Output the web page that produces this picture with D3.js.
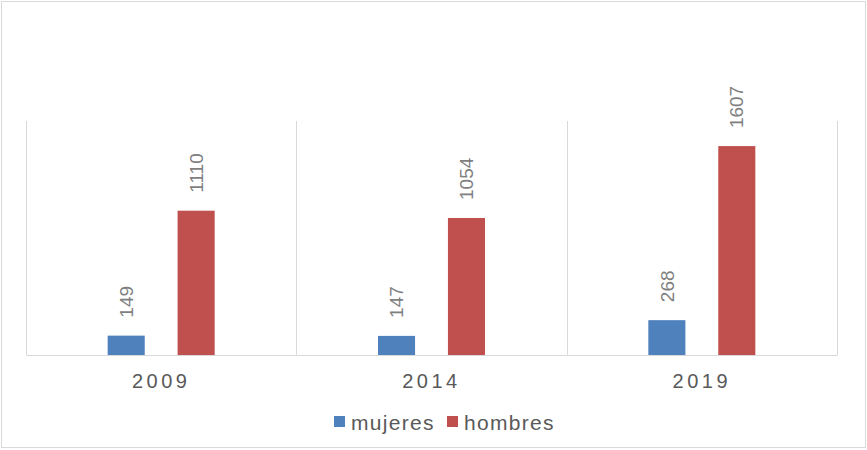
<!DOCTYPE html>
<html>
<head>
<meta charset="utf-8">
<script src="https://cdn.jsdelivr.net/npm/d3@7"></script>
<style>
  body { margin: 0; background: #fff; }
  svg { display: block; font-family: "Liberation Sans", Arial, sans-serif; }
</style>
</head>
<body>
<svg id="chart"></svg>
<script>
const years = ['2009', '2014', '2019'];
const seriesNames = ['mujeres', 'hombres'];
const mujeres = [149, 147, 268];
const hombres = [1110, 1054, 1607];
const colors = ['#4f81bd', '#c0504d'];

const width = 867;
const height = 450;
const margin = { top: 121, right: 30, bottom: 95, left: 26 };

const svg = d3.select('#chart').attr('width', width).attr('height', height);

// outer frame
svg.append('rect')
  .attr('x', 1.5).attr('y', 1.5)
  .attr('width', width - 3).attr('height', height - 4)
  .attr('fill', '#fff')
  .attr('stroke', '#d9d9d9')
  .attr('stroke-width', 1);

const chartWidth = width - margin.left - margin.right;
const chartHeight = height - margin.top - margin.bottom;

const g = svg.append('g')
  .attr('transform', `translate(${margin.left},${margin.top})`);

const x0 = d3.scaleBand().domain(years).range([0, chartWidth]).padding(0);
const x1 = d3.scaleBand().domain(seriesNames)
  .range([x0.bandwidth() / 2 - 53.5, x0.bandwidth() / 2 + 53.5])
  .paddingInner(0.47);
const y = d3.scaleLinear().domain([0, 1800]).range([chartHeight, 0]);

// category separators
const seps = years.map(d => x0(d)).concat([chartWidth]);
g.selectAll('.sep')
  .data(seps)
  .join('line')
  .attr('x1', d => Math.round(d) + 0.5)
  .attr('x2', d => Math.round(d) + 0.5)
  .attr('y1', 0)
  .attr('y2', chartHeight)
  .attr('stroke', '#d9d9d9');

const rows = years.map((yr, i) => ({ year: yr, values: [mujeres[i], hombres[i]] }));

const groups = g.selectAll('.grp')
  .data(rows)
  .join('g')
  .attr('transform', d => `translate(${x0(d.year)},0)`);

groups.selectAll('rect')
  .data(d => d.values.map((v, j) => ({ name: seriesNames[j], value: v, j })))
  .join('rect')
  .attr('x', d => x1(d.name))
  .attr('y', d => y(d.value))
  .attr('width', x1.bandwidth())
  .attr('height', d => chartHeight - y(d.value))
  .attr('fill', d => colors[d.j]);

groups.selectAll('text')
  .data(d => d.values.map((v, j) => ({ name: seriesNames[j], value: v })))
  .join('text')
  .attr('transform', d => `translate(${x1(d.name) + x1.bandwidth() / 2},${y(d.value) - 18}) rotate(-90)`)
  .attr('dy', '0.35em')
  .attr('text-anchor', 'start')
  .style('font-size', '19px')
  .style('fill', '#7f7f7f')
  .text(d => d.value);

// baseline axis
const xAxis = d3.axisBottom(x0).tickSize(0).tickPadding(19);
const ax = g.append('g')
  .attr('transform', `translate(0,${chartHeight})`)
  .call(xAxis);
ax.select('.domain').attr('stroke', '#d9d9d9').attr('stroke-width', 1);
ax.selectAll('text')
  .style('font-size', '20px')
  .style('letter-spacing', '3.5px')
  .style('font-family', '"Liberation Sans", Arial, sans-serif')
  .style('fill', '#595959');

// legend
const legend = svg.append('g').attr('transform', 'translate(334,0)');
const legendX = [0, 113];
seriesNames.forEach((name, i) => {
  const item = legend.append('g').attr('transform', `translate(${legendX[i]},0)`);
  item.append('rect')
    .attr('x', 0).attr('y', 416)
    .attr('width', 11).attr('height', 11)
    .attr('fill', colors[i]);
  item.append('text')
    .attr('x', 17).attr('y', 429.5)
    .style('font-size', '21px')
    .style('letter-spacing', '1.3px')
    .style('fill', '#595959')
    .text(name);
});
</script>
</body>
</html>
